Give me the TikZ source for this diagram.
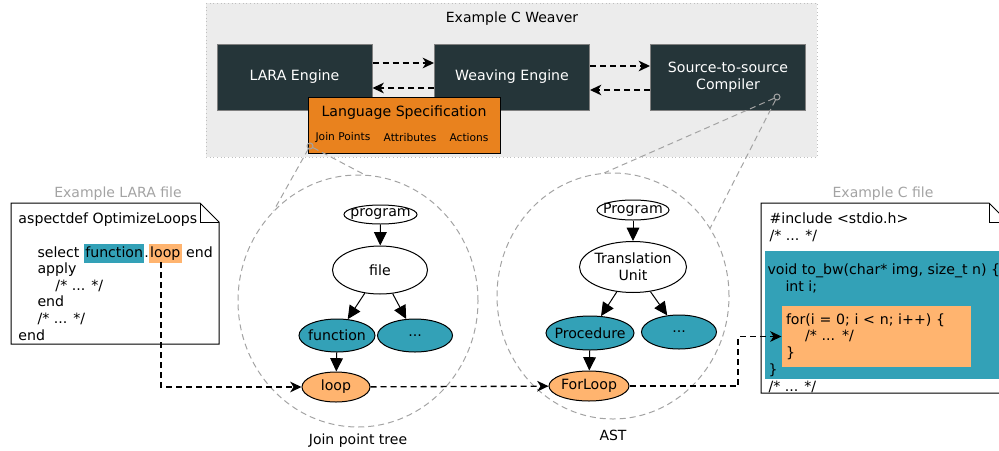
\documentclass[tikz,border=0pt]{standalone}
\usepackage{fontspec}
\setmainfont{DejaVu Sans}
\usetikzlibrary{arrows.meta,shapes.geometric}

\definecolor{weaverbg}{HTML}{ECECEC}
\definecolor{enginebg}{HTML}{253539}
\definecolor{specorange}{HTML}{E9821E}
\definecolor{jpteal}{HTML}{33A1B7}
\definecolor{looporange}{HTML}{FFB46F}
\definecolor{zoomgray}{HTML}{A3A3A3}

\newcommand{\codefont}{\fontsize{10.6pt}{12.45pt}\selectfont}
\newcommand{\labelfont}{\fontsize{10.5pt}{12.45pt}\selectfont}
\newcommand{\smallfont}{\fontsize{8pt}{9.6pt}\selectfont}
\newcommand{\hlcode}[2]{{\setlength{\fboxsep}{1pt}\smash{\colorbox{#1}{\strut #2}}}}

\tikzset{every picture/.style={line width=0.75pt}}
\tikzset{
  engine/.style={draw=black!50, fill=enginebg, text=white, font=\codefont, align=center, minimum width=116.25pt, minimum height=49.5pt, inner sep=0pt},
  tnode/.style={ellipse, draw, font=\codefont, align=center, inner sep=-4pt},
  treearrow/.style={-{Triangle[length=10pt,width=9.5pt]}},
  flow/.style={line width=1pt, dash pattern=on 4.5pt off 3pt, -{Stealth[length=8.5pt,width=8pt,inset=2.5pt]}},
  zoomline/.style={zoomgray, dash pattern=on 4.5pt off 3pt},
  zoomcircle/.style={ellipse, draw=zoomgray, dash pattern=on 4.5pt off 3pt, inner sep=0pt},
  zoommark/.style={circle, draw=zoomgray, inner sep=0pt, minimum size=4.5pt},
  codetext/.style={font=\codefont, align=left, inner sep=0pt, anchor=base west},
}

\begin{document}
\begin{tikzpicture}[x=0.75pt,y=0.75pt,yscale=-1,xscale=1]
\path[use as bounding box] (0,0) rectangle (999,450);
\clip (0,0) rectangle (999,450);

%Shape: Rectangle [weaver]
\draw [draw=black!25, fill=weaverbg, dotted] (206,3) rectangle (817,157);
% Text Node
\draw (512,19) node (weavertitle) [font=\labelfont][inner sep=0.75pt] {Example C Weaver};

%Engines
\draw (294.5,77) node (lara) [engine] {LARA Engine};
\draw (512,77) node (weave) [engine] {Weaving Engine};
\draw (728,77) node (s2s) [engine] {Source-to-source\\Compiler};

%Straight Lines
\draw [flow] (lara.east |- 0,63) -- (weave.west |- 0,63);
\draw [flow] (weave.west |- 0,88) -- (lara.east |- 0,88);
\draw [flow] (weave.east |- 0,66) -- (s2s.west |- 0,66);
\draw [flow] (s2s.west |- 0,90) -- (weave.east |- 0,90);

%Language specification
\draw (404,125) node (langspec) [draw, fill=specorange, minimum width=144pt, minimum height=42pt] {};
% Text Node
\draw (404,113) node (langtitle) [font=\codefont][inner sep=0.75pt] {Language Specification};
% Text Node
\draw (343,138) node (jpoints) [font=\smallfont][inner sep=0.75pt] {Join Points};
% Text Node
\draw (410,138) node (jattrs) [font=\smallfont][inner sep=0.75pt] {Attributes};
% Text Node
\draw (469,138) node (jactions) [font=\smallfont][inner sep=0.75pt] {Actions};

%Zoom circles
\draw (358,301) node (jptree) [zoomcircle, minimum width=180pt, minimum height=189pt] {};
\draw (613,296) node (ast) [zoomcircle, minimum width=174pt, minimum height=184.5pt] {};
\draw (310,146) node (jpmark) [zoommark] {};
\draw (777,97) node (s2smark) [zoommark] {};
\draw [zoomline] (jpmark) -- (jptree.133);
\draw [zoomline] (jpmark) -- (jptree.87);
\draw [zoomline] (s2smark) -- (ast.94);
\draw [zoomline] (s2smark) -- (ast.35);

%LARA file
\draw [fill=white] (11,203) -- (200,203) -- (219,222) -- (219,344) -- (11,344) -- cycle;
\draw (200,203) -- (200,222) -- (219,222);
% Text Node
\draw (118,194) node (laralabel) [font=\labelfont, text=zoomgray][inner sep=0.75pt] {Example LARA file};
% Text Node (anchored at the last line)
\draw (18,340) node (laracode) [codetext] {aspectdef OptimizeLoops\\ \mbox{}\\
  \hspace*{14.25pt}select \hlcode{jpteal}{function}.\hlcode{looporange}{loop} end\\
  \hspace*{14.25pt}apply\\
  \hspace*{27.75pt}/* ... */\\
  \hspace*{14.25pt}end\\
  \hspace*{14.25pt}/* ... */\\
  end};
\coordinate (laraloop) at (161,262);

%C file
\draw [fill=white] (761,203) -- (989,203) -- (1008,222) -- (1008,393) -- (761,393) -- cycle;
\draw (989,203) -- (989,222) -- (1008,222);
\fill [jpteal] (765,251) rectangle (1008,379);
% Text Node
\draw (883,194) node (clabel) [font=\labelfont, text=zoomgray][inner sep=0.75pt] {Example C file};
\draw (769,240) node (cinclude) [codetext] {\#include <stdio.h>\\/* ... */};
\draw (767,291) node (cfunc) [codetext] {void to\_bw(char* img, size\_t n) \{\\\hspace*{13.5pt}int i;};
\draw (876.5,336.5) node (cfor) [fill=looporange, text width=135.75pt, minimum height=45.75pt, inner xsep=3pt, inner ysep=0pt, align=left, font=\codefont] {for(i = 0; i < n; i++) \{\\\hspace*{14.25pt}/* ... */\\\}};
\draw (768,391) node (cend) [codetext] {\}\\/* ... */};

%Join point tree
\draw (380.5,214.5) node (jpprog) [tnode, fill=white, minimum width=54.75pt, minimum height=14.25pt] {program};
\draw (380,270) node (jpfile) [tnode, fill=white, minimum width=71.25pt, minimum height=36pt] {file};
\draw (337,335.5) node (jpfunc) [tnode, fill=jpteal, minimum width=57pt, minimum height=24.75pt] {function};
\draw (415,335.5) node (jpdots) [tnode, fill=jpteal, minimum width=56.25pt, minimum height=24.75pt] {...};
\draw (336,387) node (jploop) [tnode, fill=looporange, minimum width=51pt, minimum height=22.5pt] {loop};
\draw [treearrow] (jpprog) -- (jpfile);
\draw [treearrow] (jpfile) -- (jpfunc);
\draw [treearrow] (jpfile) -- (jpdots);
\draw [treearrow] (jpfunc) -- (jploop);
% Text Node
\draw (358,441) node (jplabel) [font=\labelfont][inner sep=0.75pt] {Join point tree};

%AST
\draw (633,210) node (astprog) [tnode, fill=white, minimum width=54pt, minimum height=15pt] {Program};
\draw (633,267) node (astunit) [tnode, fill=white, minimum width=80.25pt, minimum height=38.25pt] {Translation\\Unit};
\draw (590,333) node (astproc) [tnode, fill=jpteal, minimum width=66pt, minimum height=25.5pt] {Procedure};
\draw (679,332) node (astdots) [tnode, fill=jpteal, minimum width=56.25pt, minimum height=25.5pt] {...};
\draw (589,386) node (astloop) [tnode, fill=looporange, minimum width=60pt, minimum height=22.5pt] {ForLoop};
\draw [treearrow] (astprog) -- (astunit);
\draw [treearrow] (astunit) -- (astproc);
\draw [treearrow] (astunit) -- (astdots);
\draw [treearrow] (astproc) -- (astloop);
% Text Node
\draw (613,435) node (astlabel) [font=\labelfont][inner sep=0.75pt] {AST};

%Dashed connectors
\draw [flow] (laraloop) |- (jploop.west);
\draw [flow] (jploop) -- (astloop);
\coordinate (cbend) at (738,336.5);
\draw [flow] (astloop.east) -| (cbend) -- (cfor.west);

\end{tikzpicture}
\end{document}
